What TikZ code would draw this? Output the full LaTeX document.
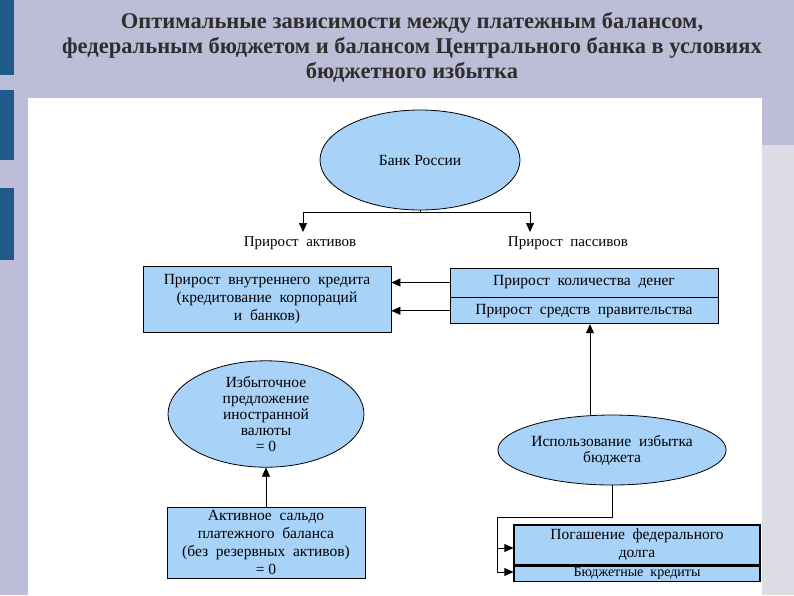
\documentclass[tikz,border=0pt]{standalone}
\usepackage{fontspec}
\setmainfont{Liberation Serif}
\usetikzlibrary{shapes.geometric,arrows.meta}
\definecolor{lav}{HTML}{BDBDD8}
\definecolor{fillb}{HTML}{A8D2F8}
\definecolor{barb}{HTML}{1F5A8C}
\definecolor{grayr}{HTML}{DCDCE4}
\definecolor{titc}{HTML}{2E2E2E}
\begin{document}
\begin{tikzpicture}[x=1pt,y=-1pt,
  ell/.style={ellipse,draw,fill=fillb,line width=0.8pt,inner sep=0pt,align=center,font=\fontsize{15.5}{16}\selectfont},
  box/.style={draw,fill=fillb,line width=0.8pt,align=center,inner sep=0pt,font=\fontsize{15.5}{18}\selectfont},
  lbl/.style={font=\fontsize{15}{17}\selectfont},
  con/.style={line width=0.7pt},
  arr/.style={line width=0.7pt,-{Triangle[length=9pt,width=8pt]}}]
\useasboundingbox (0,0) rectangle (794,595);
\fill[lav] (0,0) rectangle (794,595);
\fill[grayr] (762,145) rectangle (794,595);
\fill[white] (28,98) rectangle (762,595);
\foreach \a/\b in {0/75,90/160,188/260}{\fill[barb] (0,\a) rectangle (14,\b);}
\node[font=\bfseries\fontsize{22.5}{25}\selectfont,align=center,text=titc] (title) at (412,47)
 {Оптимальные зависимости между платежным балансом,\\федеральным бюджетом и балансом Центрального банка в условиях\\бюджетного избытка};
\node[ell,minimum width=200pt,minimum height=100pt] (bank) at (420,160) {Банк России};
\coordinate (j) at (420,212);
\coordinate (jl) at (303,212);
\coordinate (jr) at (530,212);
\coordinate (tl) at (303,232);
\coordinate (tr) at (530,232);
\draw[con] (bank.south) -- (j);
\draw[con] (jl) -- (jr);
\draw[arr] (jl) -- (tl);
\draw[arr] (jr) -- (tr);
\node[lbl] (la) at (300,243) {Прирост\ \ активов};
\node[lbl] (lp) at (568,243) {Прирост\ \ пассивов};
\node[box,minimum width=248pt,minimum height=66pt] (credit) at (267,299)
 {Прирост\ \ внутреннего\ \ кредита\\(кредитование\ \ корпораций\\и\ \ банков)};
\node[box,minimum width=268pt,minimum height=29pt] (money) at (584,282.5) {Прирост\ \ количества\ \ денег};
\node[box,minimum width=268pt,minimum height=26pt,anchor=north] (gov) at (money.south) {Прирост\ \ средств\ \ правительства};
\draw[arr] (money.west) -- (credit.east |- money.west);
\draw[arr] (gov.west) -- (credit.east |- gov.west);
\node[ell,minimum width=196pt,minimum height=96pt] (exc) at (266,414)
 {Избыточное\\предложение\\иностранной\\валюты\\= 0};
\node[box,minimum width=198pt,minimum height=71pt] (sal) at (266,542.5)
 {Активное\ \ сальдо\\платежного\ \ баланса\\(без\ \ резервных\ \ активов)\\= 0};
\draw[arr] (sal.north) -- (exc.south);
\node[ell,minimum width=200pt,minimum height=70pt] (use) at (612,450)
 {Использование\ \ избытка\\бюджета};
\draw[arr] (use.north -| 590,0) -- (gov.south -| 590,0);
\node[box,minimum width=246pt,minimum height=40pt,line width=1.2pt] (debt) at (637,545)
 {Погашение\ \ федерального\\долга};
\node[box,minimum width=246pt,minimum height=15pt,anchor=north,line width=1.2pt] (bk) at (debt.south) {\fontsize{14}{14}\selectfont Бюджетные\ \ кредиты};
\coordinate (u1) at (612,517);
\coordinate (u2) at (497,517);
\coordinate (u3) at (497,572);
\draw[con] (use.south) -- (u1) -- (u2) -- (u3);
\draw[arr] (497,548) -- (debt.west |- 497,548);
\draw[arr] (u3) -- (bk.west |- u3);
\end{tikzpicture}
\end{document}
